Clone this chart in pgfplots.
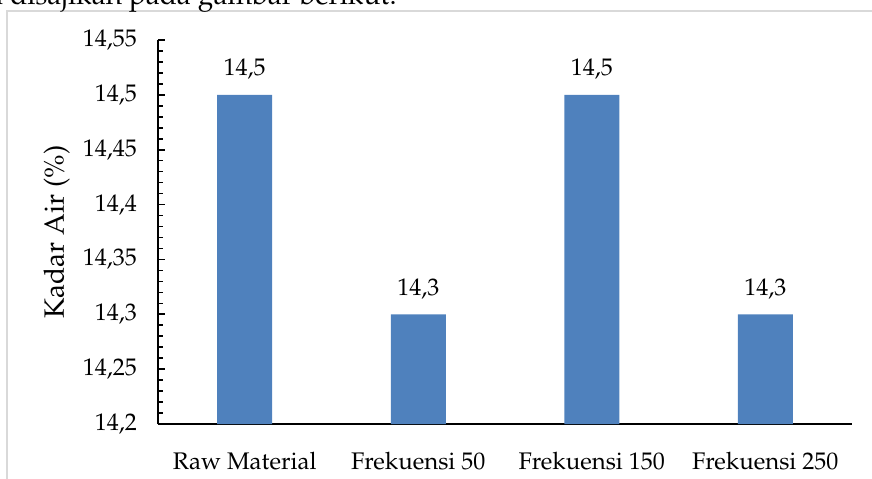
\documentclass[border=0pt]{standalone}
\usepackage[T1]{fontenc}
\usepackage{mathpazo}
\usepackage{pgfplots}
\pgfplotsset{compat=1.18}
\definecolor{barblue}{RGB}{79,129,189}
\definecolor{framegray}{RGB}{217,217,217}

\pgfplotstableread{
idx value
0 14.5
1 14.3
2 14.5
3 14.3
}\kadarair

\begin{document}
\begin{tikzpicture}[x=1pt,y=1pt]
\begin{axis}[
  name=ax,
  scale only axis, width=347pt, height=192pt,
  xmin=-0.5, xmax=3.5,
  ymin=14.2, ymax=14.55,
  axis x line*=bottom, axis y line*=left,
  axis line style={black, line width=1pt},
  xtick=data,
  xticklabels={Raw Material, Frekuensi 50, Frekuensi 150, Frekuensi 250},
  x tick style={draw=none},
  xticklabel style={anchor=base, yshift=-19pt},
  ytick={14.2,14.25,14.3,14.35,14.4,14.45,14.5,14.55},
  minor y tick num=4,
  tick align=inside,
  major tick length=3.5pt, minor tick length=2.5pt,
  y tick style={black, line width=0.8pt},
  yticklabel style={anchor=east, xshift=-7pt},
  /pgf/number format/use comma,
  /pgf/number format/precision=2,
  tick label style={font=\fontsize{12}{14}\selectfont},
  ylabel={Kadar Air (\%)},
  ylabel style={at={(axis description cs:-0.146,0.5)}, anchor=center, font=\fontsize{14}{16}\selectfont},
  ybar, bar width=27.5pt,
  nodes near coords,
  every node near coord/.append style={anchor=base, yshift=9.5pt, font=\fontsize{12}{14}\selectfont, black},
  clip=false,
]
\addplot[fill=barblue, draw=none] table[x=idx, y=value] {\kadarair};
\end{axis}
% page area around the chart
\pgfresetboundingbox
\useasboundingbox ([shift={(-79pt,-27pt)}]ax.south west) rectangle ([shift={(-79pt,-27pt)}]ax.south west) ++(436,239);
% chart frame
\draw[framegray, line width=0.8pt] ([shift={(-75.5pt,-40pt)}]ax.south west) -- ++(0,246.5) -- ++(450,0);
% running text of the page above the figure
\node[anchor=base west, inner sep=0pt, font=\fontsize{14}{16}\selectfont] at ([shift={(-84.5pt,209.75pt)}]ax.south west) {a disajikan pada gambar berikut.};
\end{tikzpicture}
\end{document}
